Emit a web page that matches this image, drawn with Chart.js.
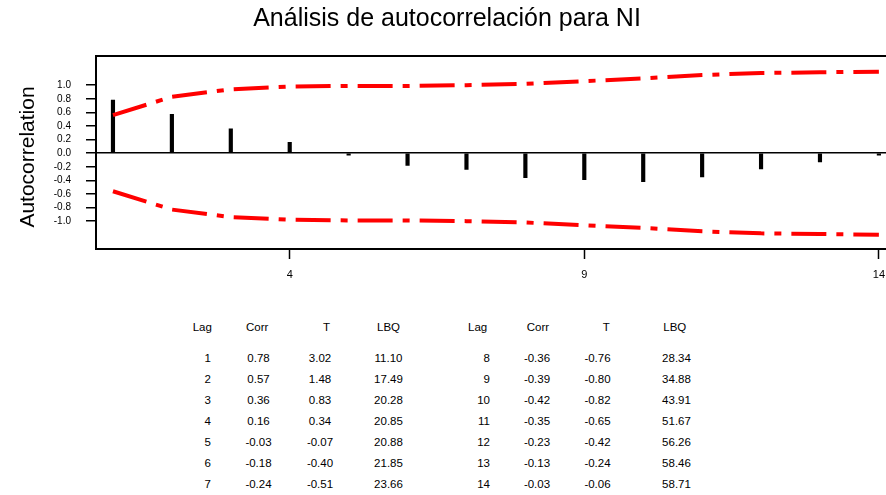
<!DOCTYPE html>
<html>
<head>
<meta charset="utf-8">
<script src="https://cdn.jsdelivr.net/npm/chart.js@4.4.1/dist/chart.umd.min.js"></script>
<style>
  html, body { margin: 0; padding: 0; overflow: hidden; background: #fff; width: 886px; height: 495px; }
  #wrap { position: absolute; left: 0; top: 0; width: 894px; height: 289px; }
  .cell { position: absolute; font-family: 'Liberation Sans', Arial, sans-serif; font-size: 11.5px; color: #000; white-space: nowrap; line-height: 1; }
</style>
</head>
<body>
<div id="wrap"><canvas id="myChart" width="894" height="289"></canvas></div>
<div id="table"></div>
<script>
const lags = [1, 2, 3, 4, 5, 6, 7, 8, 9, 10, 11, 12, 13, 14];
const corr = [0.78, 0.57, 0.36, 0.16, -0.03, -0.18, -0.24, -0.36, -0.39, -0.42, -0.35, -0.23, -0.13, -0.03];
const tStat = [3.02, 1.48, 0.83, 0.34, -0.07, -0.40, -0.51, -0.76, -0.80, -0.82, -0.65, -0.42, -0.24, -0.06];
const lbq = [11.10, 17.49, 20.28, 20.85, 20.88, 21.85, 23.66, 28.34, 34.88, 43.91, 51.67, 56.26, 58.46, 58.71];
// limites de significancia
const upperLimit = [0.56, 0.83, 0.94, 0.98, 0.99, 0.99, 1.00, 1.02, 1.06, 1.10, 1.15, 1.18, 1.19, 1.20];
const lowerLimit = [-0.56, -0.83, -0.94, -0.98, -0.99, -0.99, -1.00, -1.02, -1.06, -1.10, -1.15, -1.18, -1.19, -1.20];
const yTicks = [-1.0, -0.8, -0.6, -0.4, -0.2, 0.0, 0.2, 0.4, 0.6, 0.8, 1.0];
const xTicks = [4, 9, 14];

const FONT = "'Liberation Sans', Arial, sans-serif";
const ctx = document.getElementById('myChart');

const toPts = arr => lags.map((l, i) => ({ x: l, y: arr[i] }));

// borde superior + titulo del eje y (un poco mas abajo que el centro)
const extras = {
  id: 'extras',
  afterDraw(chart) {
    const a = chart.chartArea, c = chart.ctx;
    c.save();
    c.strokeStyle = '#000';
    c.lineWidth = 2;
    c.beginPath();
    c.moveTo(a.left - 1, a.top);
    c.lineTo(a.right, a.top);
    c.stroke();
    c.translate(28, 157);
    c.rotate(-Math.PI / 2);
    c.fillStyle = '#000';
    c.font = '21px ' + FONT;
    c.textAlign = 'center';
    c.textBaseline = 'middle';
    c.fillText('Autocorrelation', 0, 0);
    c.restore();
  }
};

let cc = new Chart(ctx, {
  type: 'bar',
  data: {
    datasets: [
      {
        type: 'line',
        data: toPts(upperLimit),
        borderColor: '#ff0000',
        borderWidth: 4,
        borderDash: [35, 10, 7, 10],
        pointRadius: 0,
        tension: 0,
        fill: false,
        order: 0
      },
      {
        type: 'line',
        data: toPts(lowerLimit),
        borderColor: '#ff0000',
        borderWidth: 4,
        borderDash: [35, 10, 7, 10],
        pointRadius: 0,
        tension: 0,
        fill: false,
        order: 0
      },
      {
        type: 'bar',
        data: toPts(corr),
        backgroundColor: '#000',
        borderWidth: 0,
        barThickness: 3.5,
        order: 1
      }
    ]
  },
  options: {
    responsive: false,
    animation: false,
    layout: { padding: 0 },
    scales: {
      x: {
        type: 'linear',
        min: 0.712,
        max: 14.237,
        offset: false,
        afterBuildTicks: s => { s.ticks = xTicks.map(v => ({ value: v })); },
        afterFit: s => { s.height = 40; },
        ticks: { font: { family: FONT, size: 11 }, color: '#000', padding: 9, maxRotation: 0 },
        grid: { offset: false, drawOnChartArea: false, drawTicks: true, tickLength: 10, tickColor: '#000', tickWidth: 1.5 },
        border: { display: true, color: '#000', width: 2 }
      },
      y: {
        min: -1.41,
        max: 1.43,
        afterBuildTicks: s => { s.ticks = yTicks.map(v => ({ value: v })); },
        afterFit: s => { s.width = 96; },
        ticks: {
          font: { family: FONT, size: 10 },
          color: '#000',
          padding: 15,
          callback: v => v.toFixed(1)
        },
        grid: {
          color: c => (c.tick && c.tick.value === 0) ? '#000' : 'rgba(0,0,0,0)',
          lineWidth: 1.5,
          tickColor: '#000',
          tickLength: 10
        },
        border: { display: true, color: '#000', width: 2 }
      }
    },
    plugins: {
      legend: { display: false },
      tooltip: { enabled: false },
      title: {
        display: true,
        text: 'Análisis de autocorrelación para NI',
        font: { family: FONT, size: 25, weight: 'normal' },
        color: '#000',
        padding: { top: 4, bottom: 22 }
      }
    }
  },
  plugins: [extras]
});

// tabla de resultados
const tbl = document.getElementById('table');
function place(text, x, y, anchor) {
  const d = document.createElement('div');
  d.className = 'cell';
  d.textContent = text;
  d.style.left = x + 'px';
  d.style.top = y + 'px';
  const tx = anchor === 'right' ? '-100%' : anchor === 'center' ? '-50%' : '0';
  d.style.transform = 'translate(' + tx + ',-50%)';
  tbl.appendChild(d);
}
const groups = [
  { rows: [0, 7], head: [192.7, 246, 323, 377], lagX: 211, corrX: 258.5, tX: 320, lbqX: 388.5 },
  { rows: [7, 14], head: [468, 526.7, 602.7, 663.3], lagX: 490, corrX: 537, tX: 597.5, lbqX: 676.5 }
];
const headers = ['Lag', 'Corr', 'T', 'LBQ'];
groups.forEach(g => {
  headers.forEach((h, k) => place(h, g.head[k], 328, 'left'));
  for (let i = g.rows[0]; i < g.rows[1]; i++) {
    const y = 359 + (i - g.rows[0]) * 21;
    place(String(lags[i]), g.lagX, y, 'right');
    place(corr[i].toFixed(2), g.corrX, y, 'center');
    place(tStat[i].toFixed(2), g.tX, y, 'center');
    place(lbq[i].toFixed(2), g.lbqX, y, 'center');
  }
});
</script>
</body>
</html>
